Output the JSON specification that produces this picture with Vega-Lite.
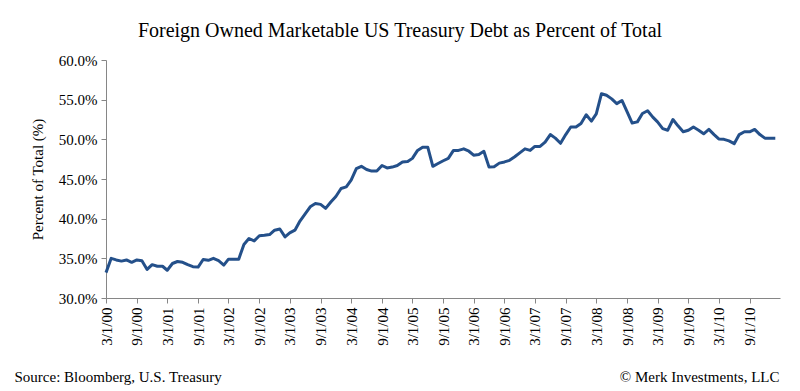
{
  "$schema": "https://vega.github.io/schema/vega-lite/v6.json",
  "width": 674,
  "height": 238,
  "autosize": {"type": "none"},
  "padding": {"left": 106, "top": 60, "right": 20, "bottom": 93},
  "background": "white",
  "config": {
    "view": {"stroke": null},
    "font": "Liberation Serif",
    "axis": {"labelFont": "Liberation Serif", "titleFont": "Liberation Serif", "labelColor": "black", "titleColor": "black", "domainColor": "#868686", "tickColor": "#868686", "grid": false, "titleFontWeight": "normal"}
  },
  "title": {"text": "Foreign Owned Marketable US Treasury Debt as Percent of Total", "font": "Liberation Serif", "fontSize": 20, "fontWeight": "normal", "color": "black", "anchor": "middle", "dx": -43, "offset": 12},
  "data": {"values": [
    {"date": "2000-03-01", "pct": 33.2}, {"date": "2000-04-01", "pct": 35.0}, {"date": "2000-05-01", "pct": 34.8}, {"date": "2000-06-01", "pct": 34.65},
    {"date": "2000-07-01", "pct": 34.8}, {"date": "2000-08-01", "pct": 34.5}, {"date": "2000-09-01", "pct": 34.8}, {"date": "2000-10-01", "pct": 34.7},
    {"date": "2000-11-01", "pct": 33.6}, {"date": "2000-12-01", "pct": 34.2}, {"date": "2001-01-01", "pct": 34.0}, {"date": "2001-02-01", "pct": 34.0},
    {"date": "2001-03-01", "pct": 33.5}, {"date": "2001-04-01", "pct": 34.35}, {"date": "2001-05-01", "pct": 34.6}, {"date": "2001-06-01", "pct": 34.5},
    {"date": "2001-07-01", "pct": 34.2}, {"date": "2001-08-01", "pct": 33.95}, {"date": "2001-09-01", "pct": 33.9}, {"date": "2001-10-01", "pct": 34.85},
    {"date": "2001-11-01", "pct": 34.75}, {"date": "2001-12-01", "pct": 35.0}, {"date": "2002-01-01", "pct": 34.7}, {"date": "2002-02-01", "pct": 34.15},
    {"date": "2002-03-01", "pct": 34.9}, {"date": "2002-04-01", "pct": 34.9}, {"date": "2002-05-01", "pct": 34.9}, {"date": "2002-06-01", "pct": 36.75},
    {"date": "2002-07-01", "pct": 37.5}, {"date": "2002-08-01", "pct": 37.2}, {"date": "2002-09-01", "pct": 37.85}, {"date": "2002-10-01", "pct": 37.9},
    {"date": "2002-11-01", "pct": 38.0}, {"date": "2002-12-01", "pct": 38.55}, {"date": "2003-01-01", "pct": 38.7}, {"date": "2003-02-01", "pct": 37.7},
    {"date": "2003-03-01", "pct": 38.2}, {"date": "2003-04-01", "pct": 38.55}, {"date": "2003-05-01", "pct": 39.7}, {"date": "2003-06-01", "pct": 40.6},
    {"date": "2003-07-01", "pct": 41.5}, {"date": "2003-08-01", "pct": 41.9}, {"date": "2003-09-01", "pct": 41.8}, {"date": "2003-10-01", "pct": 41.3},
    {"date": "2003-11-01", "pct": 42.1}, {"date": "2003-12-01", "pct": 42.8}, {"date": "2004-01-01", "pct": 43.8}, {"date": "2004-02-01", "pct": 44.0},
    {"date": "2004-03-01", "pct": 44.85}, {"date": "2004-04-01", "pct": 46.3}, {"date": "2004-05-01", "pct": 46.6}, {"date": "2004-06-01", "pct": 46.2},
    {"date": "2004-07-01", "pct": 46.0}, {"date": "2004-08-01", "pct": 46.0}, {"date": "2004-09-01", "pct": 46.7}, {"date": "2004-10-01", "pct": 46.4},
    {"date": "2004-11-01", "pct": 46.5}, {"date": "2004-12-01", "pct": 46.7}, {"date": "2005-01-01", "pct": 47.15}, {"date": "2005-02-01", "pct": 47.2},
    {"date": "2005-03-01", "pct": 47.6}, {"date": "2005-04-01", "pct": 48.6}, {"date": "2005-05-01", "pct": 49.0}, {"date": "2005-06-01", "pct": 49.0},
    {"date": "2005-07-01", "pct": 46.6}, {"date": "2005-08-01", "pct": 46.95}, {"date": "2005-09-01", "pct": 47.3}, {"date": "2005-10-01", "pct": 47.6},
    {"date": "2005-11-01", "pct": 48.6}, {"date": "2005-12-01", "pct": 48.6}, {"date": "2006-01-01", "pct": 48.8}, {"date": "2006-02-01", "pct": 48.5},
    {"date": "2006-03-01", "pct": 48.0}, {"date": "2006-04-01", "pct": 48.1}, {"date": "2006-05-01", "pct": 48.5}, {"date": "2006-06-01", "pct": 46.5},
    {"date": "2006-07-01", "pct": 46.55}, {"date": "2006-08-01", "pct": 47.0}, {"date": "2006-09-01", "pct": 47.15}, {"date": "2006-10-01", "pct": 47.35},
    {"date": "2006-11-01", "pct": 47.8}, {"date": "2006-12-01", "pct": 48.3}, {"date": "2007-01-01", "pct": 48.8}, {"date": "2007-02-01", "pct": 48.6},
    {"date": "2007-03-01", "pct": 49.1}, {"date": "2007-04-01", "pct": 49.1}, {"date": "2007-05-01", "pct": 49.65}, {"date": "2007-06-01", "pct": 50.6},
    {"date": "2007-07-01", "pct": 50.15}, {"date": "2007-08-01", "pct": 49.5}, {"date": "2007-09-01", "pct": 50.6}, {"date": "2007-10-01", "pct": 51.55},
    {"date": "2007-11-01", "pct": 51.55}, {"date": "2007-12-01", "pct": 52.0}, {"date": "2008-01-01", "pct": 53.1}, {"date": "2008-02-01", "pct": 52.3},
    {"date": "2008-03-01", "pct": 53.2}, {"date": "2008-04-01", "pct": 55.75}, {"date": "2008-05-01", "pct": 55.55}, {"date": "2008-06-01", "pct": 55.1},
    {"date": "2008-07-01", "pct": 54.5}, {"date": "2008-08-01", "pct": 54.9}, {"date": "2008-09-01", "pct": 53.45}, {"date": "2008-10-01", "pct": 52.05},
    {"date": "2008-11-01", "pct": 52.2}, {"date": "2008-12-01", "pct": 53.25}, {"date": "2009-01-01", "pct": 53.6}, {"date": "2009-02-01", "pct": 52.8},
    {"date": "2009-03-01", "pct": 52.2}, {"date": "2009-04-01", "pct": 51.35}, {"date": "2009-05-01", "pct": 51.15}, {"date": "2009-06-01", "pct": 52.5},
    {"date": "2009-07-01", "pct": 51.7}, {"date": "2009-08-01", "pct": 50.95}, {"date": "2009-09-01", "pct": 51.15}, {"date": "2009-10-01", "pct": 51.55},
    {"date": "2009-11-01", "pct": 51.15}, {"date": "2009-12-01", "pct": 50.7}, {"date": "2010-01-01", "pct": 51.25}, {"date": "2010-02-01", "pct": 50.6},
    {"date": "2010-03-01", "pct": 50.05}, {"date": "2010-04-01", "pct": 50.0}, {"date": "2010-05-01", "pct": 49.8}, {"date": "2010-06-01", "pct": 49.45},
    {"date": "2010-07-01", "pct": 50.6}, {"date": "2010-08-01", "pct": 50.95}, {"date": "2010-09-01", "pct": 50.95}, {"date": "2010-10-01", "pct": 51.25},
    {"date": "2010-11-01", "pct": 50.6}, {"date": "2010-12-01", "pct": 50.15}, {"date": "2011-01-01", "pct": 50.15}, {"date": "2011-02-01", "pct": 50.15}
  ]},
  "layer": [
    {
      "mark": {"type": "line", "color": "#24508A", "strokeWidth": 3, "strokeJoin": "round"},
      "encoding": {
        "x": {
          "field": "date", "type": "temporal",
          "scale": {"type": "utc", "domain": [{"year": 2000, "month": 3, "date": 1, "utc": true}, {"year": 2011, "month": 3, "date": 1, "utc": true}]},
          "axis": {
            "values": [
              {"year": 2000, "month": 3, "date": 1, "utc": true}, {"year": 2000, "month": 9, "date": 1, "utc": true},
              {"year": 2001, "month": 3, "date": 1, "utc": true}, {"year": 2001, "month": 9, "date": 1, "utc": true},
              {"year": 2002, "month": 3, "date": 1, "utc": true}, {"year": 2002, "month": 9, "date": 1, "utc": true},
              {"year": 2003, "month": 3, "date": 1, "utc": true}, {"year": 2003, "month": 9, "date": 1, "utc": true},
              {"year": 2004, "month": 3, "date": 1, "utc": true}, {"year": 2004, "month": 9, "date": 1, "utc": true},
              {"year": 2005, "month": 3, "date": 1, "utc": true}, {"year": 2005, "month": 9, "date": 1, "utc": true},
              {"year": 2006, "month": 3, "date": 1, "utc": true}, {"year": 2006, "month": 9, "date": 1, "utc": true},
              {"year": 2007, "month": 3, "date": 1, "utc": true}, {"year": 2007, "month": 9, "date": 1, "utc": true},
              {"year": 2008, "month": 3, "date": 1, "utc": true}, {"year": 2008, "month": 9, "date": 1, "utc": true},
              {"year": 2009, "month": 3, "date": 1, "utc": true}, {"year": 2009, "month": 9, "date": 1, "utc": true},
              {"year": 2010, "month": 3, "date": 1, "utc": true}, {"year": 2010, "month": 9, "date": 1, "utc": true}
            ],
            "labelExpr": "utcFormat(datum.value, '%-m/%-d/%y')",
            "labelAngle": 270, "labelFontSize": 15, "labelPadding": 4, "tickSize": 5,
            "labelOverlap": false, "labelFlush": false,
            "title": "Source: Bloomberg, U.S. Treasury", "titleFontSize": 15, "titleAngle": 0,
            "titleAlign": "left", "titleBaseline": "alphabetic", "titleX": -92, "titleY": 83
          }
        },
        "y": {
          "field": "pct", "type": "quantitative",
          "scale": {"domain": [30, 60]},
          "axis": {
            "values": [30, 35, 40, 45, 50, 55, 60],
            "labelExpr": "format(datum.value, '.1f') + '%'",
            "labelFontSize": 15, "labelPadding": 4, "tickSize": 5,
            "title": "Percent of Total (%)", "titleFontSize": 15, "titlePadding": 13
          }
        }
      }
    },
    {
      "mark": {"type": "rule", "opacity": 0},
      "encoding": {
        "y": {
          "aggregate": "max", "field": "pct", "type": "quantitative",
          "scale": {"domain": [30, 60]},
          "axis": {
            "orient": "right", "labels": false, "ticks": false, "domain": false,
            "title": "© Merk Investments, LLC", "titleFontSize": 15, "titleAngle": 0,
            "titleAlign": "right", "titleBaseline": "alphabetic", "titleX": -1, "titleY": 321
          }
        }
      }
    }
  ],
  "resolve": {"scale": {"y": "independent"}}
}
